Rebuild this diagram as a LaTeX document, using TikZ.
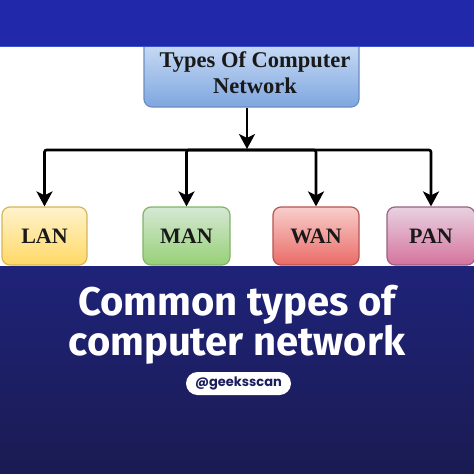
\documentclass[tikz,border=0pt]{standalone}
\usepackage{fontspec}
\setmainfont{Liberation Serif}
\newfontfamily\headfont{Fira Sans}
\newfontfamily\tagfont{Poppins}
\usetikzlibrary{arrows.meta}
\definecolor{topband}{HTML}{2128AA}
\definecolor{bandline}{HTML}{3C50D2}
\definecolor{bandtop}{HTML}{1F2379}
\definecolor{bandbot}{HTML}{1A1B52}
\definecolor{tagtext}{HTML}{1B1E5C}
\definecolor{blueD}{HTML}{6C8EBF}\definecolor{blueT}{HTML}{DCE9FA}\definecolor{blueB}{HTML}{7EA6E0}
\definecolor{yelD}{HTML}{D6B656}\definecolor{yelT}{HTML}{FFF2CC}\definecolor{yelB}{HTML}{FFD966}
\definecolor{grnD}{HTML}{82B366}\definecolor{grnT}{HTML}{D5E8D4}\definecolor{grnB}{HTML}{97D077}
\definecolor{redD}{HTML}{B85450}\definecolor{redT}{HTML}{F8CECC}\definecolor{redB}{HTML}{EA6B66}
\definecolor{purD}{HTML}{996185}\definecolor{purT}{HTML}{E8D2E1}\definecolor{purB}{HTML}{D5739D}
\tikzset{
  x=1pt, y=-1pt,
  box/.style={draw, line width=1.2pt, rounded corners=8pt, minimum height=58pt,
    font=\bfseries\fontsize{22}{22}\selectfont, text=black!90},
  arr/.style={line width=2.6pt, rounded corners=2pt, -{Stealth[length=15pt,width=16pt,inset=4pt]}},
}
\begin{document}
\begin{tikzpicture}
\useasboundingbox (0,0) rectangle (474,474);
\fill[white] (0,0) rectangle (474,474);
% top box
\node[box, draw=blueD, top color=blueT, bottom color=blueB,
  minimum width=215pt, minimum height=80pt, inner sep=0pt]
  (top) at (251.5,67) {};
\node[font=\bfseries\fontsize{22.5}{26}\selectfont, align=center, text=black!90] (title) at (255,73) {Types Of Computer\\Network};
% children
\node[box, minimum width=85pt, draw=yelD, top color=yelT, bottom color=yelB] (lan) at (44.5,236) {LAN};
\node[box, minimum width=87pt, draw=grnD, top color=grnT, bottom color=grnB] (man) at (186.5,236) {MAN};
\node[box, minimum width=86pt, draw=redD, top color=redT, bottom color=redB] (wan) at (316,236) {WAN};
\node[box, minimum width=88pt, draw=purD, top color=purT, bottom color=purB] (pan) at (431,236) {PAN};
% connectors
\coordinate (j) at (247,150);
\draw[arr] ([xshift=-4.5pt]top.south) -- ([yshift=1pt]j);
\draw[arr] (j) -| (lan.north);
\draw[arr] (j) -| (man.north);
\draw[arr] (j) -| (wan.north);
\draw[arr] (j) -| (pan.north);
% bands
\fill[topband] (0,0) rectangle (474,46);
\draw[bandline, line width=0.8pt] (0,46) -- (474,46);
\shade[top color=bandtop, bottom color=bandbot] (0,266) rectangle (474,474);
% caption
\node[text=white, font=\headfont\bfseries\fontsize{40}{37}\selectfont, align=center] (cap) at (237,325) {Common types of\\computer network};
\node[fill=white, rounded corners=11.5pt, minimum width=105pt, minimum height=23pt, inner sep=0pt,
  text=tagtext, font=\tagfont\bfseries\fontsize{13}{13}\selectfont] (tag) at (238.5,383.5) {@geeksscan};
\end{tikzpicture}
\end{document}
